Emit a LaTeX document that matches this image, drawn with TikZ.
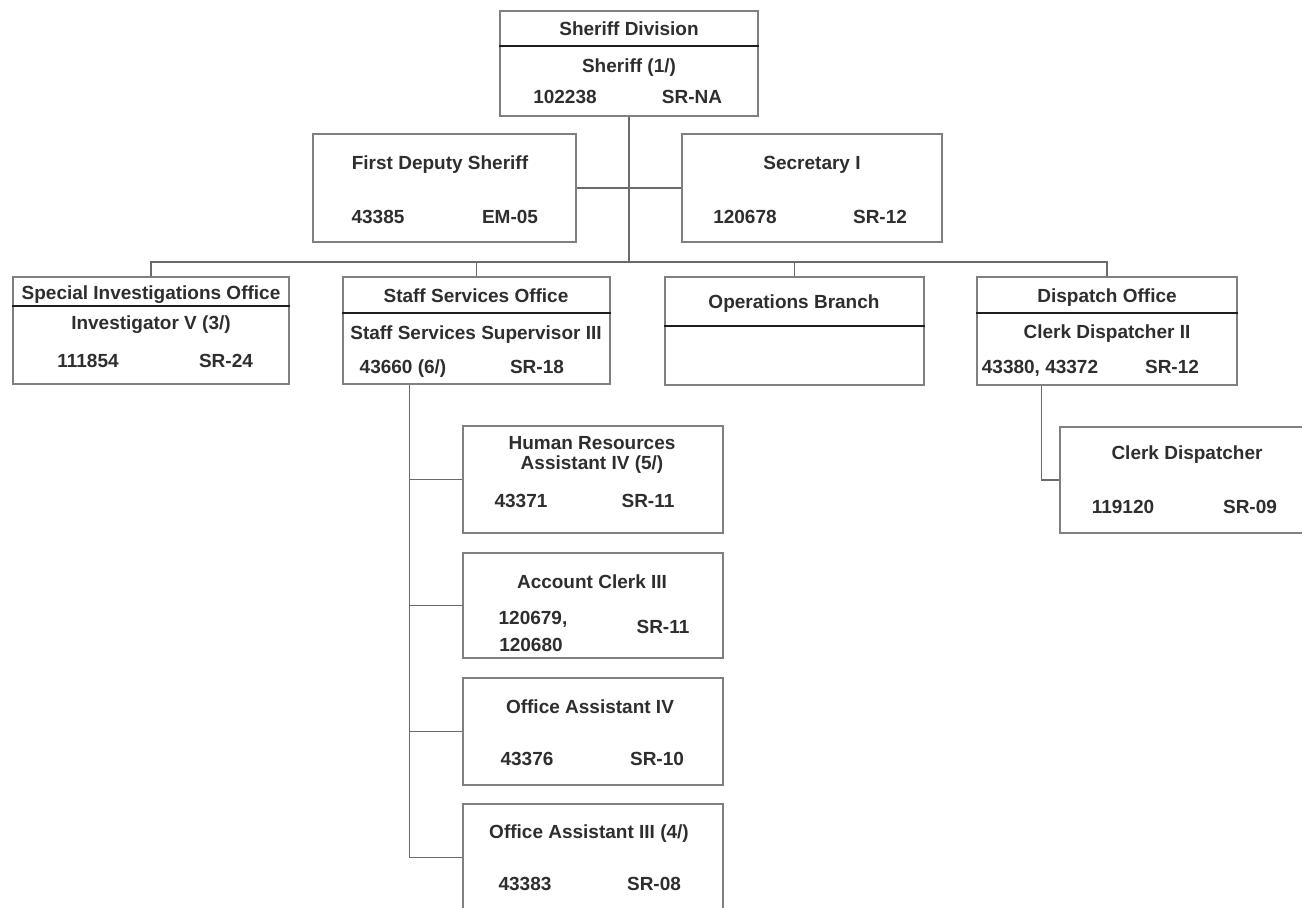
\documentclass[tikz,border=0pt]{standalone}
\usepackage{fontspec}
\setmainfont{Liberation Sans}
\usetikzlibrary{calc}
\definecolor{txt}{HTML}{2E2E2E}
\definecolor{boxline}{HTML}{808080}
\definecolor{divline}{HTML}{1E1E1E}
\definecolor{conline}{HTML}{6A6A6A}
\begin{document}
\begin{tikzpicture}[x=1pt,y=-1pt,
  orgbox/.style={draw=boxline,line width=1.1pt,inner sep=0pt,minimum width=#1},
  orgbox/.default=260,
  lbl/.style={text=txt,font=\fontsize{19}{22}\selectfont\bfseries,inner sep=0pt,text height=13.6pt,text depth=0pt,anchor=center},
  divider/.style={draw=divline,line width=1.1pt},
  conn/.style={draw=conline,line width=1.1pt}]
\useasboundingbox (0,0) rectangle (1302,908);

% boxes
\node[orgbox=258,minimum height=105] (sd) at (629,63.5) {};
\node[orgbox=263,minimum height=108] (fd) at (444.5,188) {};
\node[orgbox=260,minimum height=108] (sec) at (812,188) {};
\node[orgbox=276,minimum height=107] (si) at (151,330.5) {};
\node[orgbox=267,minimum height=107] (ss) at (476.5,330.5) {};
\node[orgbox=259,minimum height=108] (ops) at (794.5,331) {};
\node[orgbox=260,minimum height=108] (dp) at (1107,331) {};
\node[orgbox=254,minimum height=106] (cd) at (1187,480) {};
\node[orgbox=260,minimum height=107] (hr) at (593,479.5) {};
\node[orgbox=260,minimum height=105] (ac) at (593,605.5) {};
\node[orgbox=260,minimum height=107] (oa4) at (593,731.5) {};
\node[orgbox=260,minimum height=107] (oa3) at (593,857.5) {};

% dividers
\draw[divider] (sd.west |- 0,46) -- (sd.east |- 0,46);
\draw[divider] (si.west |- 0,306) -- (si.east |- 0,306);
\draw[divider] (ss.west |- 0,313) -- (ss.east |- 0,313);
\draw[divider] (ops.west |- 0,326) -- (ops.east |- 0,326);
\draw[divider] (dp.west |- 0,313) -- (dp.east |- 0,313);

% connectors
\coordinate (bus) at (628,262);
\draw[conn] (sd.south) -- (sd.south |- bus);
\draw[conn] (fd.east) -- (sec.west);
\draw[conn] (si.north) -- (si.north |- bus) -- (dp.north |- bus) -- (dp.north);
\draw[conn] (ss.north) -- (ss.north |- bus);
\draw[conn] (ops.north) -- (ops.north |- bus);
\coordinate (ssdrop) at ($(ss.south west)!0.25!(ss.south east)$);
\draw[conn] (ssdrop) |- (oa3.west);
\draw[conn] (ssdrop |- hr.west) -- (hr.west);
\draw[conn] (ssdrop |- ac.west) -- (ac.west);
\draw[conn] (ssdrop |- oa4.west) -- (oa4.west);
\coordinate (dpdrop) at ($(dp.south west)!0.25!(dp.south east)$);
\draw[conn] (dpdrop) |- (cd.west);

% texts
\node[lbl] (sdt) at (629,29) {Sheriff Division};
\node[lbl] (sdp) at (629,66) {Sheriff (1/)};
\node[lbl] (sdn) at (565,97) {102238};
\node[lbl] (sdg) at (692,97) {SR-NA};

\node[lbl] (fdt) at (440,163) {First Deputy Sheriff};
\node[lbl] (fdn) at (378,217) {43385};
\node[lbl] (fdg) at (510,217) {EM-05};

\node[lbl] (sect) at (812,163) {Secretary I};
\node[lbl] (secn) at (745,217) {120678};
\node[lbl] (secg) at (880,217) {SR-12};

\node[lbl] (sit) at (151,293) {Special Investigations Office};
\node[lbl] (sip) at (151,323) {Investigator V (3/)};
\node[lbl] (sin) at (88,361) {111854};
\node[lbl] (sig) at (226,361) {SR-24};

\node[lbl] (sst) at (476,296) {Staff Services Office};
\node[lbl] (ssp) at (476,333) {Staff Services Supervisor III};
\node[lbl] (ssn) at (403,367) {43660 (6/)};
\node[lbl] (ssg) at (537,367) {SR-18};

\node[lbl] (opst) at (794,302) {Operations Branch};

\node[lbl] (dpt) at (1107,296) {Dispatch Office};
\node[lbl] (dpp) at (1107,332) {Clerk Dispatcher II};
\node[lbl] (dpn) at (1040,367) {43380, 43372};
\node[lbl] (dpg) at (1172,367) {SR-12};

\node[lbl] (cdt) at (1187,453) {Clerk Dispatcher};
\node[lbl] (cdn) at (1123,507) {119120};
\node[lbl] (cdg) at (1250,507) {SR-09};

\node[lbl] (hrt) at (592,443) {Human Resources};
\node[lbl] (hrp) at (592,463) {Assistant IV (5/)};
\node[lbl] (hrn) at (521,501) {43371};
\node[lbl] (hrg) at (648,501) {SR-11};

\node[lbl] (act) at (592,582) {Account Clerk III};
\node[lbl] (acn) at (533,618) {120679,};
\node[lbl] (acm) at (531,645) {120680};
\node[lbl] (acg) at (663,627) {SR-11};

\node[lbl] (oa4t) at (590,707) {Office Assistant IV};
\node[lbl] (oa4n) at (527,759) {43376};
\node[lbl] (oa4g) at (657,759) {SR-10};

\node[lbl] (oa3t) at (589,832) {Office Assistant III (4/)};
\node[lbl] (oa3n) at (525,884) {43383};
\node[lbl] (oa3g) at (654,884) {SR-08};
\end{tikzpicture}
\end{document}
